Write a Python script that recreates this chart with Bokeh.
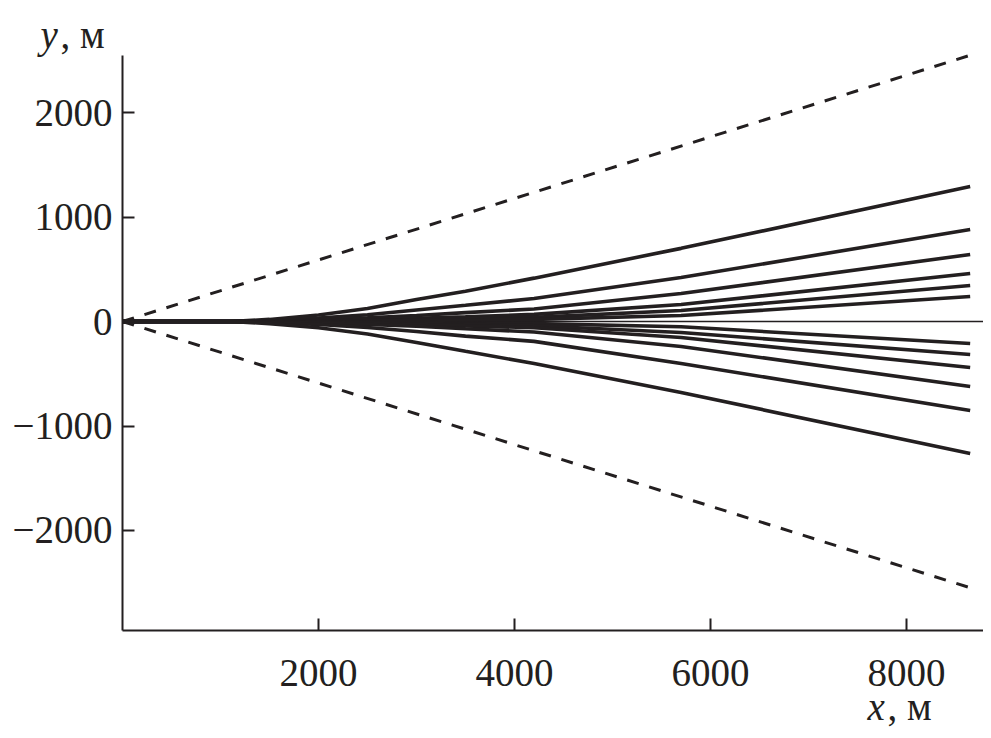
from bokeh.plotting import figure
from bokeh.models import Range1d, Label, FixedTicker
from bokeh.embed import file_html
from bokeh.resources import INLINE

# ---- data ----
x_pts = [0, 1100, 1500, 2000, 2500, 3000, 3500, 4200, 5700, 8650]
upper = [
    [0, 0, 20, 62, 125, 210, 290, 415, 700, 1292],
    [0, 0, 10, 32, 65, 110, 155, 220, 421, 880],
    [0, 0, 5, 17, 35, 58, 85, 120, 268, 641],
    [0, 0, 3, 9, 18, 30, 45, 68, 163, 459],
    [0, 0, 2, 5, 10, 18, 27, 40, 105, 344],
    [0, 0, 1, 3, 6, 10, 14, 20, 57, 239],
]
lower = [
    [0, 0, -1, -3, -6, -10, -14, -20, -50, -211],
    [0, 0, -2, -5, -10, -18, -27, -40, -105, -316],
    [0, 0, -3, -8, -16, -28, -42, -60, -153, -440],
    [0, 0, -4, -14, -28, -45, -70, -100, -239, -622],
    [0, 0, -9, -29, -58, -95, -140, -190, -402, -852],
    [0, 0, -20, -60, -120, -200, -285, -402, -679, -1263],
]
dash_x = [0, 8640]
dash_upper = [0, 2545]
dash_lower = [0, -2545]
baseline_x = [0, 8786]
baseline_y = [0, 0]

x_ticks = [2000, 4000, 6000, 8000]
y_ticks = [-2000, -1000, 0, 1000, 2000]
y_tick_labels = {-2000: "\u22122000", -1000: "\u22121000", 0: "0", 1000: "1000", 2000: "2000"}

X_AXIS_BOUNDS = (0, 8786)
Y_AXIS_BOUNDS = (-2957, 2545)

FONT = "Liberation Serif"
INK = "#231f20"

p = figure(width=983, height=730, output_backend="svg", toolbar_location=None,
           x_range=Range1d(-1245, 8786), y_range=Range1d(-3914, 3072),
           min_border=0, min_border_left=0, min_border_right=0,
           min_border_top=0, min_border_bottom=0)
p.outline_line_color = None
p.xgrid.visible = False
p.ygrid.visible = False
p.background_fill_color = "white"
p.border_fill_color = "white"

for ax in (p.xaxis[0], p.yaxis[0]):
    ax.axis_line_width = 2
    ax.axis_line_color = INK
    ax.major_tick_in = 12
    ax.major_tick_out = 0
    ax.major_tick_line_width = 2
    ax.major_tick_line_color = INK
    ax.minor_tick_line_color = None
    ax.major_label_text_font = FONT
    ax.major_label_text_font_size = "39px"
    ax.major_label_text_color = INK

p.xaxis.ticker = FixedTicker(ticks=x_ticks)
p.yaxis.ticker = FixedTicker(ticks=y_ticks)
p.yaxis.major_label_overrides = y_tick_labels
p.xaxis.fixed_location = Y_AXIS_BOUNDS[0]
p.yaxis.fixed_location = X_AXIS_BOUNDS[0]
p.xaxis.bounds = X_AXIS_BOUNDS
p.yaxis.bounds = Y_AXIS_BOUNDS
p.xaxis.major_label_standoff = 30
p.yaxis.major_label_standoff = 10

p.line(baseline_x, baseline_y, line_color=INK, line_width=1.5)

for ys in upper + lower:
    p.line(x_pts, ys, line_color=INK, line_width=3.6)

p.line(dash_x, dash_upper, line_color=INK, line_width=3, line_dash="12 11")
p.line(dash_x, dash_lower, line_color=INK, line_width=3, line_dash="12 11")

def lab(x, y, t, style="normal"):
    p.add_layout(Label(x=x, y=y, text=t, text_font=FONT, text_font_size="39px",
                       text_font_style=style, text_color=INK,
                       text_baseline="alphabetic", text_align="left"))

lab(-837, 2746, "y", "italic")
lab(-633, 2746, ", м")
lab(7602, -3684, "x", "italic")
lab(7806, -3684, ", м")

open("out.html", "w").write(file_html(p, INLINE))
